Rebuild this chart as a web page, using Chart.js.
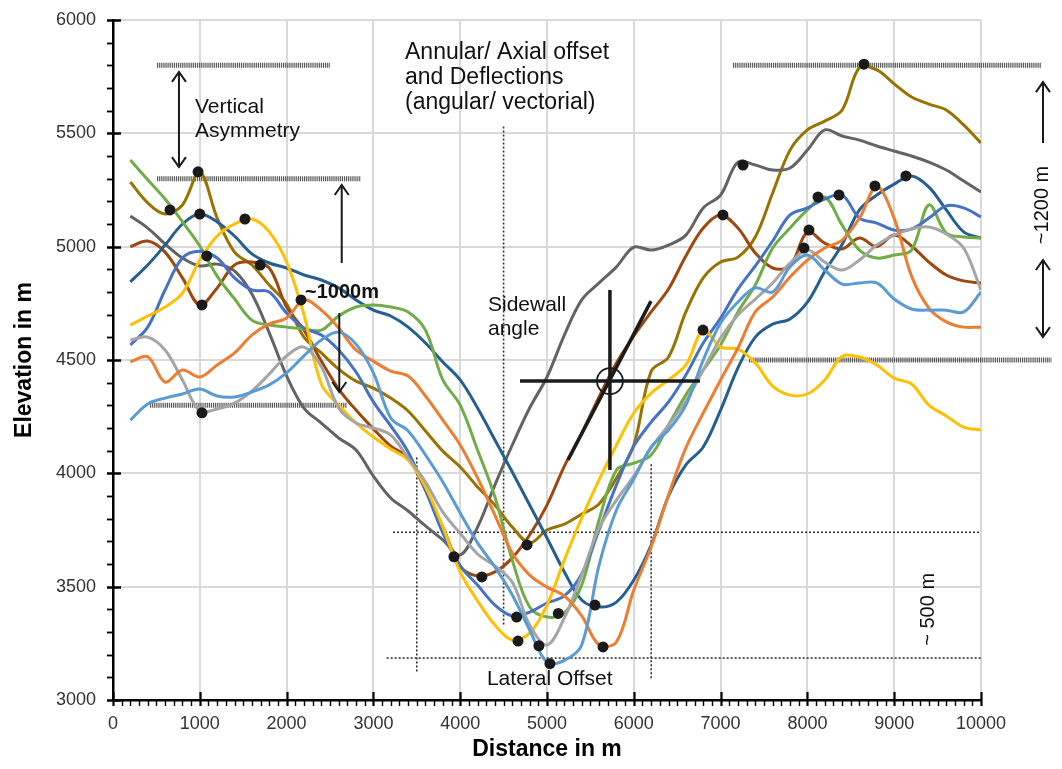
<!DOCTYPE html>
<html><head><meta charset="utf-8">
<script src="https://cdn.jsdelivr.net/npm/chart.js@4"></script>
<style>html,body{margin:0;padding:0;background:#fff}canvas{display:block}</style>
</head><body>
<canvas id="c" width="1062" height="769"></canvas>
<script>
// ---------- DATA ----------
const distances = [200,400,600,800,1000,1200,1400,1600,1800,2000,2200,2400,2600,2800,3000,3200,3400,3600,3800,4000,4200,4400,4600,4800,5000,5200,5400,5600,5800,6000,6200,6400,6600,6800,7000,7200,7400,7600,7800,8000,8200,8400,8600,8800,9000,9200,9400,9600,9800,10000];

const lightBlue = [4235,4306,4332,4350,4372,4341,4337,4359,4390,4443,4518,4588,4623,4570,4443,4244,4187,4081,3962,3825,3693,3587,3463,3309,3167,3175,3243,3595,3838,3975,4116,4191,4301,4500,4663,4756,4818,4800,4911,4963,4897,4835,4840,4840,4769,4725,4720,4720,4712,4800];
const orange = [4492,4514,4403,4456,4425,4478,4531,4610,4659,4685,4765,4720,4641,4544,4495,4451,4429,4341,4235,4125,3980,3816,3648,3551,3498,3459,3371,3243,3256,3485,3675,3904,4112,4266,4412,4553,4712,4778,4866,4941,4994,5029,5126,5265,5125,4870,4729,4668,4645,4645];
const lightGray = [4588,4601,4544,4412,4275,4284,4310,4363,4438,4518,4557,4470,4288,4222,4200,4169,4068,3962,3829,3735,3644,3591,3520,3331,3243,3362,3551,3759,3882,3988,4112,4213,4319,4456,4597,4698,4769,4840,4928,4985,4932,4897,4941,5007,5051,5078,5087,5056,4994,4809];
const yellow = [4654,4694,4734,4795,4941,5047,5100,5122,5065,4932,4700,4394,4301,4222,4160,4107,4059,3940,3763,3565,3437,3331,3265,3295,3419,3618,3803,3971,4125,4266,4354,4412,4478,4630,4557,4548,4487,4385,4345,4350,4412,4517,4513,4478,4420,4394,4301,4253,4204,4191];
const mediumBlue = [4566,4645,4809,4950,4980,4950,4862,4809,4800,4707,4641,4610,4544,4447,4315,4209,4094,3926,3737,3591,3507,3419,3371,3388,3428,3459,3556,3750,3949,4120,4226,4315,4434,4575,4685,4813,4915,5025,5140,5171,5210,5228,5126,5104,5073,5078,5126,5180,5171,5131];
const green = [5382,5295,5210,5110,5003,4870,4770,4676,4654,4645,4637,4632,4694,4734,4743,4734,4712,4632,4412,4301,4103,3896,3617,3410,3366,3384,3507,3794,4015,4045,4081,4213,4346,4456,4566,4712,4831,4994,5082,5162,5219,5095,4985,4950,4963,4985,5184,5060,5043,5038];
const darkBlue = [4845,4919,5007,5100,5144,5109,5047,4968,4928,4906,4875,4853,4818,4765,4720,4694,4645,4575,4491,4412,4288,4147,4006,3860,3715,3565,3441,3410,3432,3529,3684,3900,4037,4116,4279,4465,4601,4658,4681,4755,4890,5010,5162,5228,5276,5312,5263,5162,5065,5038];
const brown = [5000,5025,4976,4862,4743,4818,4919,4932,4906,4734,4632,4495,4372,4279,4196,4120,4068,3926,3763,3591,3547,3565,3627,3728,3860,4032,4178,4337,4487,4606,4712,4813,4959,5082,5140,5082,4972,4906,4915,5065,5016,4990,5038,5000,5051,5003,4932,4875,4849,4840];
const darkGray = [5135,5082,5012,4950,4915,4923,4893,4791,4620,4430,4288,4222,4156,4103,3988,3891,3834,3768,3706,3640,3763,3949,4125,4288,4425,4610,4765,4840,4911,4998,4985,5007,5051,5171,5228,5373,5360,5338,5347,5426,5515,5488,5470,5444,5422,5400,5373,5338,5290,5241];
const olive = [5285,5193,5144,5184,5329,5126,4976,4919,4831,4747,4601,4531,4460,4407,4376,4332,4275,4187,4098,4028,3940,3860,3763,3693,3750,3776,3820,3865,3979,4125,4450,4513,4712,4862,4932,4954,5043,5237,5426,5515,5554,5603,5790,5780,5718,5660,5629,5603,5537,5457];

// marked points (distance, elevation)
const markerX = [657,980,1000,1080,1520,1025,1695,2166,1025,3928,4250,4770,4650,4666,4907,5034,5130,5553,5645,6797,7027,7258,8018,7960,8122,8364,8778,9135,8651];
const markerY = [5162,5330,5144,4959,5122,4743,4919,4765,4267,3632,3543,3684,3366,3260,3239,3160,3382,3419,3234,4632,5140,5360,5073,4994,5219,5228,5268,5312,5805];

const xTickValues = [0,1000,2000,3000,4000,5000,6000,7000,8000,9000,10000];
const yTickValues = [3000,3500,4000,4500,5000,5500,6000];

// ---------- ANNOTATIONS (data units) ----------
const hatchLines = [ // [xStart, xEnd, elevation]
  [507, 2500, 5800],
  [507, 2857, 5300],
  [426, 2696, 4300],
  [7143, 10700, 5800],
  [7327, 10815, 4500]
];
const dottedLines = [ // [x1, y1, x2, y2]
  [4500, 5530, 4500, 3330],
  [3226, 3740, 10000, 3740],
  [3153, 3185, 10000, 3185],
  [3500, 4070, 3500, 3120],
  [6200, 4040, 6200, 3090]
];
const arrows = [ // [x, yFrom, yTo, doubleHeaded]
  [760, 5351, 5771, true],
  [2635, 4928, 5272, false],
  [2607, 4707, 4359, false],
  [10714, 5457, 5726, false],
  [10714, 4601, 4941, true]
];
const crossSegments = [ // [x1,y1,x2,y2]
  [4689, 4407, 6762, 4407],
  [5725, 4809, 5725, 4015],
  [5242, 4059, 6198, 4760]
];
const crossCenter = [5725, 4407];
const labels = [ // [text, x, y, bold, size]
  ['Vertical', 945, 5590, false, 21],
  ['Asymmetry', 945, 5484, false, 21],
  ['~1000m', 2212, 4772, true, 20],
  ['Annular/ Axial offset', 3364, 5828, false, 23],
  ['and Deflections', 3364, 5718, false, 23],
  ['(angular/ vectorial)', 3364, 5607, false, 23],
  ['Sidewall', 4320, 4716, false, 21],
  ['angle', 4320, 4612, false, 21],
  ['Lateral Offset', 4308, 3066, false, 21]
];
const rotatedLabels = [ // [text, x, y]
  ['~ 500 m', 9400, 3400],
  ['~1200 m', 10714, 5184]
];

// ---------- CHART ----------
const FONT = '"Liberation Sans", Arial, Helvetica, sans-serif';
Chart.defaults.font.family = FONT;

const seriesDefs = [
  ['lightBlue', lightBlue, '#5B9BD5'],
  ['orange', orange, '#ED7D31'],
  ['lightGray', lightGray, '#A5A5A5'],
  ['yellow', yellow, '#FFC000'],
  ['mediumBlue', mediumBlue, '#4472C4'],
  ['green', green, '#70AD47'],
  ['darkBlue', darkBlue, '#255E91'],
  ['brown', brown, '#9E480E'],
  ['darkGray', darkGray, '#636363'],
  ['olive', olive, '#997300']
];

const datasets = seriesDefs.map(([name, vals, col]) => ({
  label: name,
  data: distances.map((d, k) => ({x: d, y: vals[k]})),
  borderColor: col,
  backgroundColor: col,
  borderWidth: 3,
  pointRadius: 0,
  tension: 0.35,
  fill: false,
  order: 5
}));
datasets.push({
  label: 'markers',
  data: markerX.map((d, k) => ({x: d, y: markerY[k]})),
  showLine: false,
  pointRadius: 5.5,
  pointBackgroundColor: '#1a1a1a',
  pointBorderColor: '#1a1a1a',
  pointBorderWidth: 0,
  order: 0
});

function arrowHead(ctx, x, y, dir) { // dir: -1 up, +1 down
  ctx.beginPath();
  ctx.moveTo(x - 7, y - dir * 10);
  ctx.lineTo(x, y);
  ctx.lineTo(x + 7, y - dir * 10);
  ctx.stroke();
}

const annot = {
  id: 'annot',
  beforeDatasetsDraw(chart) {
    const {ctx, scales: {x, y}} = chart;
    ctx.save();
    ctx.lineCap = 'butt';
    ctx.strokeStyle = '#555';
    ctx.lineWidth = 5;
    ctx.setLineDash([1.2, 0.9]);
    hatchLines.forEach(([a, b, v]) => {
      const py = y.getPixelForValue(v);
      ctx.beginPath();
      ctx.moveTo(x.getPixelForValue(a), py);
      ctx.lineTo(x.getPixelForValue(b), py);
      ctx.stroke();
    });
    ctx.strokeStyle = '#333';
    ctx.lineWidth = 1.6;
    ctx.setLineDash([2, 2]);
    dottedLines.forEach(([a, b, c, d]) => {
      ctx.beginPath();
      ctx.moveTo(x.getPixelForValue(a), y.getPixelForValue(b));
      ctx.lineTo(x.getPixelForValue(c), y.getPixelForValue(d));
      ctx.stroke();
    });
    ctx.restore();
  },
  afterDatasetsDraw(chart) {
    const {ctx, scales: {x, y}} = chart;
    ctx.save();
    ctx.setLineDash([]);
    ctx.strokeStyle = '#1a1a1a';
    ctx.lineWidth = 2;
    arrows.forEach(([xv, y1, y2, dbl]) => {
      const px = x.getPixelForValue(xv);
      const p1 = y.getPixelForValue(y1), p2 = y.getPixelForValue(y2);
      ctx.beginPath(); ctx.moveTo(px, p1); ctx.lineTo(px, p2); ctx.stroke();
      arrowHead(ctx, px, p2, p2 < p1 ? -1 : 1);
      if (dbl) arrowHead(ctx, px, p1, p1 < p2 ? -1 : 1);
    });
    ctx.lineWidth = 3.5;
    crossSegments.forEach(([a, b, c, d]) => {
      ctx.beginPath();
      ctx.moveTo(x.getPixelForValue(a), y.getPixelForValue(b));
      ctx.lineTo(x.getPixelForValue(c), y.getPixelForValue(d));
      ctx.stroke();
    });
    ctx.lineWidth = 1.8;
    ctx.beginPath();
    ctx.arc(x.getPixelForValue(crossCenter[0]), y.getPixelForValue(crossCenter[1]), 13, 0, Math.PI * 2);
    ctx.stroke();
    ctx.fillStyle = '#111';
    ctx.textBaseline = 'alphabetic';
    ctx.textAlign = 'left';
    labels.forEach(([t, xv, yv, bold, size]) => {
      ctx.font = (bold ? 'bold ' : '') + size + 'px ' + FONT;
      ctx.fillText(t, x.getPixelForValue(xv), y.getPixelForValue(yv));
    });
    ctx.font = '20px ' + FONT;
    ctx.textAlign = 'center';
    ctx.textBaseline = 'middle';
    rotatedLabels.forEach(([t, xv, yv]) => {
      ctx.save();
      ctx.translate(x.getPixelForValue(xv), y.getPixelForValue(yv));
      ctx.rotate(-Math.PI / 2);
      ctx.fillText(t, 0, 0);
      ctx.restore();
    });
    ctx.restore();
  },
  afterDraw(chart) {
    const {ctx, chartArea: ca, scales: {x, y}} = chart;
    ctx.save();
    ctx.strokeStyle = '#000';
    for (let v = 3000; v <= 6000; v += 100) {
      const py = Math.round(y.getPixelForValue(v)) + 0.5;
      const major = v % 500 === 0;
      ctx.lineWidth = major ? 2.5 : 1.8;
      ctx.beginPath();
      ctx.moveTo(ca.left - 6, py);
      ctx.lineTo(major ? ca.left + 8 : ca.left, py);
      ctx.stroke();
    }
    for (let v = 0; v <= 10000; v += 100) {
      const px = Math.round(x.getPixelForValue(v)) + 0.5;
      const major = v % 1000 === 0;
      ctx.lineWidth = major ? 2.2 : 1.4;
      ctx.beginPath();
      ctx.moveTo(px, major ? ca.bottom - 8 : ca.bottom);
      ctx.lineTo(px, ca.bottom + 6);
      ctx.stroke();
    }
    ctx.restore();
  }
};

new Chart(document.getElementById('c'), {
  type: 'line',
  data: {datasets},
  options: {
    responsive: false,
    animation: false,
    events: [],
    layout: {padding: {top: 20, right: 81, left: 0, bottom: 0}},
    plugins: {legend: {display: false}, tooltip: {enabled: false}},
    scales: {
      x: {
        type: 'linear', min: 0, max: 10000,
        afterBuildTicks: s => { s.ticks = xTickValues.map(v => ({value: v})); },
        ticks: {font: {size: 18}, color: '#333', padding: 13, maxRotation: 0, autoSkip: false, callback: v => String(v)},
        grid: {color: '#d9d9d9', lineWidth: 2, drawTicks: false},
        border: {color: '#000', width: 2.5},
        title: {display: true, text: 'Distance in m', color: '#000', font: {size: 23, weight: 'bold'}, padding: {top: 0, bottom: 6}},
        afterFit: s => { s.height = 69; }
      },
      y: {
        type: 'linear', min: 3000, max: 6000,
        afterBuildTicks: s => { s.ticks = yTickValues.map(v => ({value: v})); },
        ticks: {font: {size: 18}, color: '#333', padding: 8, callback: v => String(v)},
        grid: {color: '#d9d9d9', lineWidth: 2, drawTicks: true, tickLength: 9, tickColor: 'rgba(0,0,0,0)'},
        border: {color: '#000', width: 2.5},
        title: {display: true, text: 'Elevation in m', color: '#000', font: {size: 23, weight: 'bold'}, padding: {top: 11, bottom: 0}},
        afterFit: s => { s.width = 113; }
      }
    }
  },
  plugins: [annot]
});
</script>
</body></html>
